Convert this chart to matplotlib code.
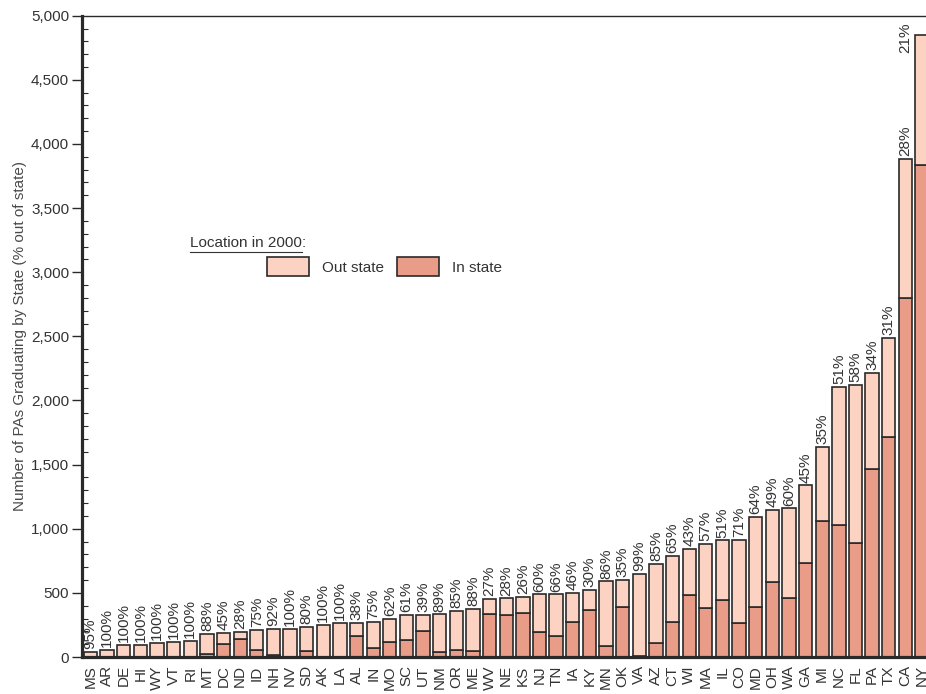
import matplotlib
matplotlib.use("Agg")
import matplotlib.pyplot as plt
import numpy as np
from matplotlib.patches import Patch
from matplotlib.ticker import FuncFormatter, MultipleLocator

plt.rcParams['font.family'] = ['Liberation Sans', 'DejaVu Sans']

# PA graduates by state, sorted by total
states = ['MS', 'AR', 'DE', 'HI', 'WY', 'VT', 'RI', 'MT', 'DC', 'ND', 'ID', 'NH', 'NV',
          'SD', 'AK', 'LA', 'AL', 'IN', 'MO', 'SC', 'UT', 'NM', 'OR', 'ME', 'WV', 'NE',
          'KS', 'NJ', 'TN', 'IA', 'KY', 'MN', 'OK', 'VA', 'AZ', 'CT', 'WI', 'MA', 'IL',
          'CO', 'MD', 'OH', 'WA', 'GA', 'MI', 'NC', 'FL', 'PA', 'TX', 'CA', 'NY']
totals = [38, 57, 94, 95, 112, 120, 125, 180, 186, 195, 213, 221, 222,
          237, 248, 268, 268, 275, 300, 331, 331, 333, 362, 376, 455, 457,
          467, 489, 489, 500, 526, 590, 603, 651, 729, 789, 845, 880, 909,
          916, 1093, 1145, 1158, 1338, 1637, 2103, 2122, 2218, 2486, 3884, 4853]
pct_out = [95, 100, 100, 100, 100, 100, 100, 88, 45, 28, 75, 92, 100,
           80, 100, 100, 38, 75, 62, 61, 39, 89, 85, 88, 27, 28,
           26, 60, 66, 46, 30, 86, 35, 99, 85, 65, 43, 57, 51,
           71, 64, 49, 60, 45, 35, 51, 58, 34, 31, 28, 21]

totals = np.array(totals, dtype=float)
pct_out = np.array(pct_out, dtype=float)
in_state = totals * (100 - pct_out) / 100
out_state = totals - in_state

OUT_COLOR = '#fcd3c2'
IN_COLOR = '#e99d88'
EDGE = '#2a2a2a'
TEXT = '#333333'
FS = 11

fig = plt.figure(figsize=(9.26, 6.94), dpi=100)
ax = fig.add_axes([0.0882, 0.0533, 0.9118, 0.9241])

x = np.arange(len(states))
ax.bar(x, in_state, width=0.8, color=IN_COLOR, edgecolor=EDGE, linewidth=1.2)
ax.bar(x, out_state, width=0.8, bottom=in_state, color=OUT_COLOR,
       edgecolor=EDGE, linewidth=1.2)

for i, (xi, tot, p) in enumerate(zip(x, totals, pct_out)):
    # the last bar runs into the top of the axes, so tuck its label to the left
    offset = (-12, -13) if i == len(states) - 1 else (0, 2)
    ax.annotate(f'{p:.0f}%', (xi, tot), xytext=offset, textcoords='offset points',
                rotation=90, ha='center', va='bottom', fontsize=FS, color=TEXT)

ax.set_xlim(-0.53, 50.24)
ax.set_ylim(0, 5000)
ax.set_xticks(x)
ax.set_xticklabels(states, rotation=90, fontsize=FS, color=TEXT)
ax.tick_params(axis='x', length=0, pad=6)

ax.yaxis.set_major_locator(MultipleLocator(500))
ax.yaxis.set_minor_locator(MultipleLocator(100))
ax.yaxis.set_major_formatter(FuncFormatter(lambda v, pos: f'{int(v):,}'))
ax.tick_params(axis='y', which='major', direction='out', length=7, width=1,
               labelsize=FS, labelcolor=TEXT, color=EDGE, pad=2)
ax.tick_params(axis='y', which='minor', direction='in', length=4, width=0.8, color=EDGE)
ax.set_ylabel('Number of PAs Graduating by State (% out of state)',
              fontsize=11, color='#4a4a4a', labelpad=3)

ax.spines['left'].set_linewidth(2.3)
ax.spines['bottom'].set_linewidth(2.3)
ax.spines['top'].set_linewidth(1.0)
ax.spines['right'].set_visible(False)
for s in ('left', 'bottom', 'top'):
    ax.spines[s].set_color(EDGE)

# legend with an underlined caption
cap_y = 0.639
cap = ax.text(0.128, cap_y, 'Location in 2000', transform=ax.transAxes,
              fontsize=FS, color=TEXT, va='baseline', ha='left')
fig.canvas.draw()
bb = cap.get_window_extent().transformed(ax.transAxes.inverted())
ax.text(bb.x1, cap_y, ':', transform=ax.transAxes, fontsize=FS, color=TEXT,
        va='baseline', ha='left')
ax.plot([bb.x0, bb.x1], [cap_y - 0.0075, cap_y - 0.0075], transform=ax.transAxes,
        color=TEXT, linewidth=0.8, clip_on=False)

handles = [Patch(facecolor=OUT_COLOR, edgecolor=EDGE, linewidth=1.2),
           Patch(facecolor=IN_COLOR, edgecolor=EDGE, linewidth=1.2)]
ax.legend(handles, ['Out state', 'In state'], loc='upper left',
          bbox_to_anchor=(0.2195, 0.624), ncol=2, frameon=False, fontsize=FS,
          handlelength=2.75, handleheight=1.6, handletextpad=0.85,
          columnspacing=0.85, borderaxespad=0, borderpad=0, labelcolor=TEXT)

fig.savefig('out.png', dpi=100)
